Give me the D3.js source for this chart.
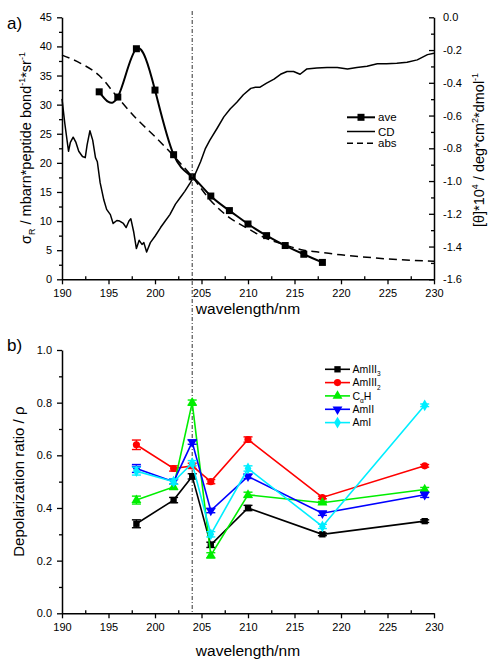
<!DOCTYPE html>
<html><head><meta charset="utf-8">
<script src="https://cdn.jsdelivr.net/npm/d3@7"></script>
<style>
body{margin:0;background:#fff;}
svg{display:block;}
text{font-family:Arial,"Liberation Sans",sans-serif;fill:#000;}
</style>
</head><body>
<svg id="c" width="497" height="666"></svg>
<script>
// ---------- DATA ----------
const xTicks = [190,195,200,205,210,215,220,225,230];
const leftTicksA = [0,5,10,15,20,25,30,35,40,45];
const rightTicksA = [0,-0.2,-0.4,-0.6,-0.8,-1.0,-1.2,-1.4,-1.6];
const leftTicksB = [0,0.2,0.4,0.6,0.8,1.0];

const aveWl  = [194,196,198,200,202,204,206,208,210,212,214,216,218];
const aveVal = [32.2,31.3,39.6,32.5,21.4,17.6,14.3,11.8,9.5,7.5,5.8,4.3,2.9];

const absWl  = [190,192,194,196,198,200,202,204,206,208,210,212,214,216,218,220,222,225,230];
const absVal = [38.5,37.1,35.0,31.2,27.6,24.5,21.2,17.6,13.5,10.6,8.7,7.0,5.9,5.0,4.6,4.2,3.9,3.5,3.1];

const cdWl = [190.0,190.3,190.7,190.9,191.2,191.5,191.8,192.2,192.5,192.7,193.0,193.3,193.6,193.8,194.1,194.5,194.8,195.2,195.5,195.9,196.2,196.6,196.9,197.2,197.4,197.7,198.0,198.3,198.6,198.8,199.1,199.5,200.0,200.6,201.1,201.6,202.2,202.7,203.2,203.8,204.3,204.9,205.4,205.9,206.7,207.4,208.1,208.8,209.5,210.3,210.8,211.3,212.0,212.8,213.5,214.2,214.9,215.6,216.3,217.4,218.5,219.6,220.7,221.7,222.8,223.9,224.9,226.0,227.1,228.2,229.3,230.0];
const cdVal = [-0.498,-0.647,-0.818,-0.764,-0.732,-0.764,-0.818,-0.850,-0.857,-0.779,-0.693,-0.750,-0.857,-0.882,-1.010,-1.116,-1.173,-1.205,-1.259,-1.241,-1.244,-1.259,-1.284,-1.244,-1.230,-1.308,-1.412,-1.362,-1.387,-1.376,-1.433,-1.376,-1.337,-1.284,-1.244,-1.205,-1.141,-1.102,-1.063,-1.010,-0.960,-0.882,-0.804,-0.750,-0.676,-0.608,-0.558,-0.519,-0.473,-0.434,-0.427,-0.427,-0.402,-0.377,-0.348,-0.331,-0.331,-0.348,-0.316,-0.309,-0.306,-0.306,-0.316,-0.306,-0.299,-0.284,-0.284,-0.281,-0.274,-0.260,-0.228,-0.220];

const rhoWl = [198,202,204,206,210,218,229];
const amIII3 = [0.34,0.43,0.52,0.26,0.40,0.30,0.35];
const amIII2 = [0.64,0.55,0.56,0.50,0.66,0.44,0.56];
const caH    = [0.43,0.48,0.80,0.22,0.45,0.42,0.47];
const amII   = [0.55,0.50,0.65,0.39,0.52,0.38,0.45];
const amI    = [0.54,0.50,0.57,0.30,0.55,0.33,0.79];
const errIII3 = [0.015,0.01,0.01,0.01,0.01,0.005,0.005];
const errIII2 = [0.018,0.01,0.01,0.008,0.01,0.005,0.005];
const errCaH  = [0.015,0.01,0.01,0.01,0.01,0.005,0.008];
const errII   = [0.015,0.01,0.008,0.008,0.008,0.008,0.01];
const errI    = [0.015,0.01,0.01,0.01,0.01,0.008,0.005];
const markerWl = 204;

// ---------- LAYOUT ----------
const svg = d3.select('#c');
const L = 62, R = 434;
const aTop = 17.3, aBot = 279.3;
const bTop = 350, bBot = 613.3;

const x  = d3.scaleLinear().domain([190,230]).range([L,R]);
const yA = d3.scaleLinear().domain([0,45]).range([aBot,aTop]);
const yR = d3.scaleLinear().domain([-1.6,0]).range([aBot,aTop]);
const yB = d3.scaleLinear().domain([0,1]).range([bBot,bTop]);

const FS = 11;
function styleAxis(g){
  g.selectAll('path.domain').attr('stroke','#000').attr('stroke-width',1.5);
  g.selectAll('.tick line').attr('stroke','#000').attr('stroke-width',1.3);
  g.selectAll('text').attr('font-size',FS).attr('font-family','Arial, "Liberation Sans", sans-serif').attr('fill','#000');
}
function minorVals(a,b,step){const r=[];for(let v=a;v<=b+1e-9;v+=step)r.push(+v.toFixed(4));return r;}
const xMinor = minorVals(192.5,227.5,5);

function rich(t, parts, size){
  let shift = 0;
  parts.forEach(([s,k])=>{
    const target = k==='sub' ? 0.3*size : (k==='sup' ? -0.42*size : 0);
    t.append('tspan').attr('dy', target-shift).attr('font-size', k==='n'?size:size*0.62).text(s);
    shift = target;
  });
}

// ---------- CHART A ----------
// bottom axis
let g = svg.append('g').attr('transform',`translate(0,${aBot})`)
  .call(d3.axisBottom(x).tickValues(xTicks).tickFormat(d3.format('d')).tickSize(5).tickSizeOuter(0).tickPadding(5));
styleAxis(g);
g = svg.append('g').attr('transform',`translate(0,${aBot})`)
  .call(d3.axisTop(x).tickValues(xMinor).tickFormat('').tickSize(3).tickSizeOuter(0));
styleAxis(g); g.select('path.domain').remove();
// left axis
g = svg.append('g').attr('transform',`translate(${L},0)`)
  .call(d3.axisLeft(yA).tickValues(leftTicksA).tickSize(5).tickSizeOuter(0).tickPadding(5));
styleAxis(g);
g = svg.append('g').attr('transform',`translate(${L},0)`)
  .call(d3.axisLeft(yA).tickValues(minorVals(2.5,42.5,5)).tickFormat('').tickSize(3).tickSizeOuter(0));
styleAxis(g); g.select('path.domain').remove();
// right axis (ticks pointing inward)
g = svg.append('g').attr('transform',`translate(${R},0)`)
  .call(d3.axisRight(yR).tickValues(rightTicksA).tickFormat(d3.format('.1f')).tickSize(-5).tickSizeOuter(0).tickPadding(9));
styleAxis(g);
g.selectAll('text').text(d=> d3.format('.1f')(d).replace('−','-'));
g = svg.append('g').attr('transform',`translate(${R},0)`)
  .call(d3.axisRight(yR).tickValues(minorVals(-1.5,-0.1,0.2)).tickFormat('').tickSize(-3).tickSizeOuter(0));
styleAxis(g); g.select('path.domain').remove();

// abs dashed
svg.append('path')
  .datum(d3.zip(absWl,absVal))
  .attr('fill','none').attr('stroke','#000').attr('stroke-width',1.5)
  .attr('stroke-dasharray','8,5')
  .attr('d', d3.line().x(d=>x(d[0])).y(d=>yA(d[1])).curve(d3.curveMonotoneX));
// CD solid
svg.append('path')
  .datum(d3.zip(cdWl,cdVal))
  .attr('fill','none').attr('stroke','#000').attr('stroke-width',1.5)
  .attr('stroke-linejoin','round')
  .attr('d', d3.line().x(d=>x(d[0])).y(d=>yR(d[1])));
// ave
svg.append('path')
  .datum(d3.zip(aveWl,aveVal))
  .attr('fill','none').attr('stroke','#000').attr('stroke-width',2)
  .attr('d', d3.line().x(d=>x(d[0])).y(d=>yA(d[1])).curve(d3.curveNatural));
svg.append('g').selectAll('rect').data(d3.zip(aveWl,aveVal)).join('rect')
  .attr('x',d=>x(d[0])-3.5).attr('y',d=>yA(d[1])-3.5)
  .attr('width',7).attr('height',7).attr('fill','#000');

// legend A
const lgA = [
  {name:'ave', y:117.3, dash:null, mark:true},
  {name:'CD',  y:131.5, dash:null, mark:false},
  {name:'abs', y:143.3, dash:'6,4', mark:false}
];
lgA.forEach(it=>{
  svg.append('line').attr('x1',347).attr('x2',375).attr('y1',it.y).attr('y2',it.y)
    .attr('stroke','#000').attr('stroke-width',it.mark?2:1.5).attr('stroke-dasharray',it.dash);
  if(it.mark) svg.append('rect').attr('x',361-3.5).attr('y',it.y-3.5).attr('width',7).attr('height',7).attr('fill','#000');
  svg.append('text').attr('x',378).attr('y',it.y+4).attr('font-size',11.5).text(it.name);
});

// labels A
svg.append('text').attr('x',7).attr('y',29).attr('font-size',17).text('a)');
svg.append('text').attr('x',248).attr('y',314).attr('text-anchor','middle').attr('font-size',15.5).text('wavelength/nm');
let t = svg.append('text').attr('transform','translate(31,148) rotate(-90)').attr('text-anchor','middle');
rich(t, [['σ','n'],['R','sub'],[' / mbarn*peptide bond','n'],['-1','sup'],['*sr','n'],['-1','sup']], 14.5);
t = svg.append('text').attr('transform','translate(484,150) rotate(-90)').attr('text-anchor','middle');
rich(t, [['[θ]*10','n'],['4','sup'],[' / deg*cm','n'],['2','sup'],['*dmol','n'],['-1','sup']], 14.5);

// ---------- CHART B ----------
g = svg.append('g').attr('transform',`translate(0,${bBot})`)
  .call(d3.axisBottom(x).tickValues(xTicks).tickFormat(d3.format('d')).tickSize(5).tickSizeOuter(0).tickPadding(5));
styleAxis(g);
g = svg.append('g').attr('transform',`translate(0,${bBot})`)
  .call(d3.axisTop(x).tickValues(xMinor).tickFormat('').tickSize(3).tickSizeOuter(0));
styleAxis(g); g.select('path.domain').remove();
g = svg.append('g').attr('transform',`translate(${L},0)`)
  .call(d3.axisLeft(yB).tickValues(leftTicksB).tickFormat(d3.format('.1f')).tickSize(5).tickSizeOuter(0).tickPadding(5));
styleAxis(g);
g = svg.append('g').attr('transform',`translate(${L},0)`)
  .call(d3.axisLeft(yB).tickValues(minorVals(0.1,0.9,0.2)).tickFormat('').tickSize(3).tickSizeOuter(0));
styleAxis(g); g.select('path.domain').remove();

// vertical dash-dot marker line
svg.append('line').attr('x1',x(markerWl)).attr('x2',x(markerWl)).attr('y1',11).attr('y2',bBot)
  .attr('stroke','#333').attr('stroke-width',1).attr('stroke-dasharray','4,2,1,2');

const series = [
  {vals:amIII3, err:errIII3, color:'#000000', sym:d3.symbolSquare, size:40, rot:0, name:[['AmIII','n'],['3','sub']]},
  {vals:amIII2, err:errIII2, color:'#ff0000', sym:d3.symbolCircle, size:40, rot:0, name:[['AmIII','n'],['2','sub']]},
  {vals:caH,    err:errCaH,  color:'#00ee00', sym:d3.symbolTriangle, size:42, rot:0, name:[['C','n'],['α','sub'],['H','n']]},
  {vals:amII,   err:errII,   color:'#0000ff', sym:d3.symbolTriangle, size:42, rot:180, name:[['AmII','n']]},
  {vals:amI,    err:errI,    color:'#00eeff', sym:d3.symbolDiamond, size:40, rot:0, name:[['AmI','n']]}
];

series.forEach(s=>{
  const pts = rhoWl.map((w,i)=>({w, v:s.vals[i], e:s.err[i]}));
  svg.append('path').datum(pts).attr('fill','none').attr('stroke',s.color).attr('stroke-width',1.6)
    .attr('d', d3.line().x(d=>x(d.w)).y(d=>yB(d.v)));
  const eg = svg.append('g').attr('stroke',s.color).attr('stroke-width',1.4);
  pts.forEach(p=>{
    const cx = x(p.w), y1 = yB(p.v+p.e), y2 = yB(p.v-p.e);
    eg.append('line').attr('x1',cx).attr('x2',cx).attr('y1',y1).attr('y2',y2);
    eg.append('line').attr('x1',cx-4.5).attr('x2',cx+4.5).attr('y1',y1).attr('y2',y1);
    eg.append('line').attr('x1',cx-4.5).attr('x2',cx+4.5).attr('y1',y2).attr('y2',y2);
  });
  svg.append('g').selectAll('path').data(pts).join('path')
    .attr('d', d3.symbol().type(s.sym).size(s.size))
    .attr('transform', d=>`translate(${x(d.w)},${yB(d.v)}) rotate(${s.rot})`)
    .attr('fill', s.color);
});

// legend B
const lgY = [369.3, 382.6, 395.9, 409.3, 422.6];
series.forEach((s,i)=>{
  const y = lgY[i];
  svg.append('line').attr('x1',325).attr('x2',350).attr('y1',y).attr('y2',y).attr('stroke',s.color).attr('stroke-width',1.6);
  svg.append('path').attr('d', d3.symbol().type(s.sym).size(s.size)).attr('transform',`translate(337.5,${y}) rotate(${s.rot})`).attr('fill',s.color);
  const tt = svg.append('text').attr('x',352.5).attr('y',y+3.8);
  rich(tt, s.name, 10.5);
});

svg.append('text').attr('x',7).attr('y',351).attr('font-size',17).text('b)');
svg.append('text').attr('x',248).attr('y',656).attr('text-anchor','middle').attr('font-size',15.5).text('wavelength/nm');
svg.append('text').attr('transform',`translate(24,${(bTop+bBot)/2}) rotate(-90)`).attr('text-anchor','middle')
  .attr('font-size',15).text('Depolarization ratio / ρ');
</script>
</body></html>
